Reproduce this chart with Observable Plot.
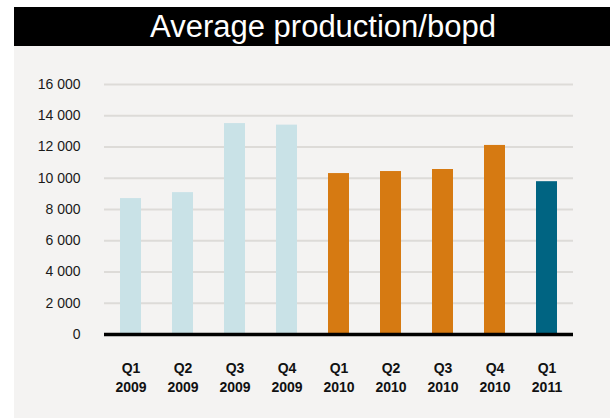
<!DOCTYPE html>
<html>
<head>
<meta charset="utf-8">
<script src="https://cdn.jsdelivr.net/npm/d3@7"></script>
<script src="https://cdn.jsdelivr.net/npm/@observablehq/plot@0.6"></script>
<style>
  html, body { margin: 0; padding: 0; background: #ffffff; }
  #wrap { position: absolute; left: 14px; top: 7px; width: 596px; }
  #title { height: 39px; background: #000; color: #fff; font-family: "Liberation Sans", Arial, sans-serif;
           font-size: 31px; line-height: 40px; text-align: center; padding-left: 22px; box-sizing: border-box; }
  #chart svg { display: block; background: #f4f3f2; }
</style>
</head>
<body>
<div id="wrap">
  <div id="title">Average production/bopd</div>
  <div id="chart"></div>
</div>
<script>
const quarters = ["Q1\n2009", "Q2\n2009", "Q3\n2009", "Q4\n2009", "Q1\n2010", "Q2\n2010", "Q3\n2010", "Q4\n2010", "Q1\n2011"];
const production = [8700, 9080, 13500, 13400, 10300, 10430, 10560, 12100, 9780];
const years = ["2009", "2009", "2009", "2009", "2010", "2010", "2010", "2010", "2011"];
const yTicks = [0, 2000, 4000, 6000, 8000, 10000, 12000, 14000, 16000];

const data = quarters.map((q, i) => ({q, v: production[i], year: years[i]}));

const chart = Plot.plot({
  width: 596,
  height: 372,
  marginLeft: 90,
  marginRight: 37,
  marginTop: 38,
  marginBottom: 84,
  style: {background: "#f4f3f2", fontFamily: "'Liberation Sans', Arial, sans-serif"},
  x: {domain: quarters, paddingInner: 0.6, paddingOuter: 0.3, label: null},
  y: {domain: [0, 16000], label: null},
  color: {domain: ["2009", "2010", "2011"], range: ["#c9e2e7", "#d67a12", "#006482"]},
  marks: [
    Plot.gridY(yTicks, {stroke: "#dddbd8", strokeOpacity: 1, strokeWidth: 2}),
    Plot.barY(data, {x: "q", y: "v", fill: "year"}),
    Plot.ruleY([0], {stroke: "#000", strokeWidth: 3.5}),
    Plot.axisY(yTicks, {tickSize: 0, tickPadding: 24, fontSize: 14, fill: "#1a1a1a",
      tickFormat: d => d3.format(",")(d).replace(/,/g, " ")}),
    Plot.axisX({tickSize: 0, tickPadding: 26, fontSize: 14, fontWeight: "bold", fill: "#111", lineHeight: 1.3})
  ]
});
document.getElementById("chart").appendChild(chart);
</script>
</body>
</html>
